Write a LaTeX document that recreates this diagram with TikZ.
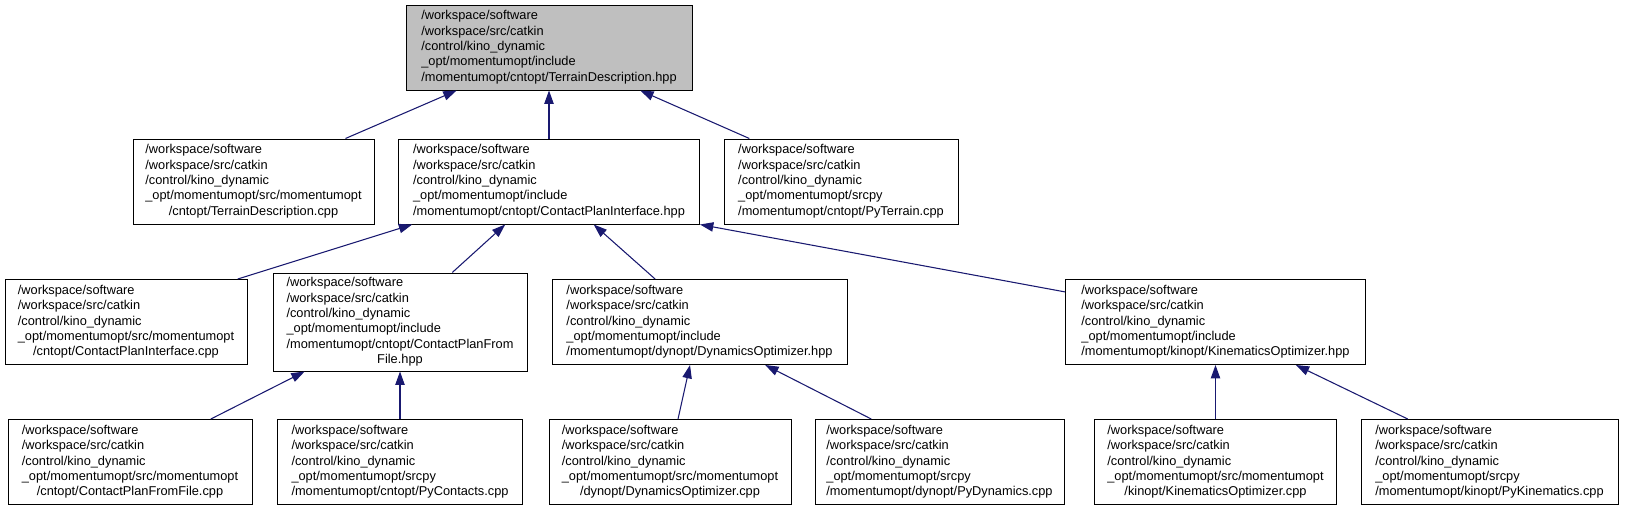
\documentclass[tikz,border=0pt]{standalone}
\usepackage{fontspec}
\setmainfont{Liberation Sans}
\usetikzlibrary{arrows.meta, calc}

\definecolor{blunotte}{HTML}{191970}
\definecolor{grigiografo}{HTML}{BFBFBF}

% percorso del file: righe comuni, righe centrali, ultima riga centrata
\newcommand{\percorso}[2]{\begin{tabular}{@{}l@{}}/workspace/software\\/workspace/src/catkin\\/control/kino\_dynamic\\#1\\\multicolumn{1}{@{}c@{}}{#2}\end{tabular}}

\begin{document}
\begin{tikzpicture}[
  x=0.75pt, y=-0.75pt,
  font=\fontsize{9.6}{11.5}\selectfont,
  documento/.style={draw=black, line width=0.75pt, fill=white, inner sep=0pt,
                    minimum height=63.75pt},
  radice/.style={documento, fill=grigiografo},
  dipendenza/.style={draw=blunotte, line width=0.8pt,
                     -{Triangle[length=10pt, width=7pt]}}
]

\useasboundingbox (0,0) rectangle (1625,511);

% ---- intestazione di partenza --------------------------------------
\node[radice, minimum width=214.5pt] (td) at (549,47.5)
  {\percorso{\_opt/momentumopt/include}{/momentumopt/cntopt/TerrainDescription.hpp}};

% ---- secondo livello -----------------------------------------------
\node[documento, minimum width=180.75pt] (tdcpp) at (253.5,181.5)
  {\percorso{\_opt/momentumopt/src/momentumopt}{/cntopt/TerrainDescription.cpp}};
\node[documento, minimum width=225.75pt] (cpi) at (549,181.5)
  {\percorso{\_opt/momentumopt/include}{/momentumopt/cntopt/ContactPlanInterface.hpp}};
\node[documento, minimum width=175.5pt] (pyterr) at (841,181.5)
  {\percorso{\_opt/momentumopt/srcpy}{/momentumopt/cntopt/PyTerrain.cpp}};

% ---- terzo livello -------------------------------------------------
\node[documento, minimum width=181.5pt] (cpicpp) at (126,322)
  {\percorso{\_opt/momentumopt/src/momentumopt}{/cntopt/ContactPlanInterface.cpp}};
\node[documento, minimum width=190.5pt, minimum height=73.5pt] (cpff) at (400,322)
  {\percorso{\_opt/momentumopt/include\\/momentumopt/cntopt/ContactPlanFrom}{File.hpp}};
\node[documento, minimum width=221.25pt] (dyn) at (699.5,322)
  {\percorso{\_opt/momentumopt/include}{/momentumopt/dynopt/DynamicsOptimizer.hpp}};
\node[documento, minimum width=225pt] (kin) at (1215.5,322)
  {\percorso{\_opt/momentumopt/include}{/momentumopt/kinopt/KinematicsOptimizer.hpp}};

% ---- quarto livello ------------------------------------------------
\node[documento, minimum width=183pt] (cpffcpp) at (130,462)
  {\percorso{\_opt/momentumopt/src/momentumopt}{/cntopt/ContactPlanFromFile.cpp}};
\node[documento, minimum width=183.75pt] (pycont) at (400,462)
  {\percorso{\_opt/momentumopt/srcpy}{/momentumopt/cntopt/PyContacts.cpp}};
\node[documento, minimum width=181.5pt] (dyncpp) at (670,462)
  {\percorso{\_opt/momentumopt/src/momentumopt}{/dynopt/DynamicsOptimizer.cpp}};
\node[documento, minimum width=186.75pt] (pydyn) at (939.5,462)
  {\percorso{\_opt/momentumopt/srcpy}{/momentumopt/dynopt/PyDynamics.cpp}};
\node[documento, minimum width=181.5pt] (kincpp) at (1215.5,462)
  {\percorso{\_opt/momentumopt/src/momentumopt}{/kinopt/KinematicsOptimizer.cpp}};
\node[documento, minimum width=192.75pt] (pykin) at (1489.5,462)
  {\percorso{\_opt/momentumopt/srcpy}{/momentumopt/kinopt/PyKinematics.cpp}};

% ---- dipendenze (freccia verso chi viene incluso) ------------------
\draw[dipendenza] ($(tdcpp.north west)!0.88!(tdcpp.north east)$) -- ($(td.south west)!0.178!(td.south east)$);
\draw[dipendenza] (cpi.north) -- (td.south);
\draw[dipendenza] ($(pyterr.north west)!0.11!(pyterr.north east)$) -- ($(td.south west)!0.818!(td.south east)$);

\draw[dipendenza] ($(cpicpp.north west)!0.96!(cpicpp.north east)$) -- ($(cpi.south west)!0.047!(cpi.south east)$);
\draw[dipendenza] ($(cpff.north west)!0.705!(cpff.north east)$) -- ($(cpi.south west)!0.355!(cpi.south east)$);
\draw[dipendenza] ($(dyn.north west)!0.35!(dyn.north east)$) -- ($(cpi.south west)!0.648!(cpi.south east)$);
\draw[dipendenza] ($(kin.north west)!0.15!(kin.south west)$) -- (cpi.south east);

\draw[dipendenza] ($(cpffcpp.north west)!0.83!(cpffcpp.north east)$) -- ($(cpff.south west)!0.126!(cpff.south east)$);
\draw[dipendenza] (pycont.north) -- (cpff.south);
\draw[dipendenza] ($(dyncpp.north west)!0.533!(dyncpp.north east)$) -- ($(dyn.south west)!0.468!(dyn.south east)$);
\draw[dipendenza] ($(pydyn.north west)!0.227!(pydyn.north east)$) -- ($(dyn.south west)!0.722!(dyn.south east)$);
\draw[dipendenza] (kincpp.north) -- (kin.south);
\draw[dipendenza] ($(pykin.north west)!0.183!(pykin.north east)$) -- ($(kin.south west)!0.767!(kin.south east)$);

\end{tikzpicture}
\end{document}
